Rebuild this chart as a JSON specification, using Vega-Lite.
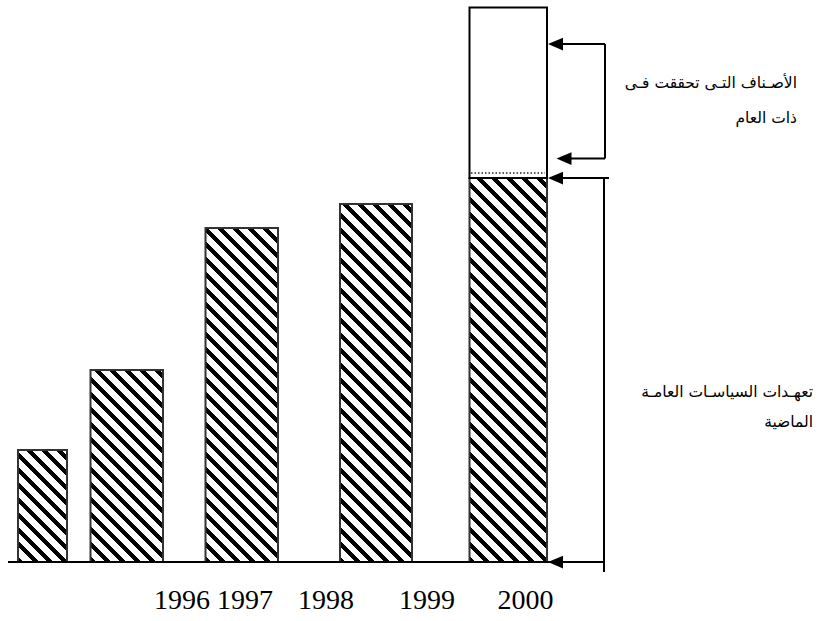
{
  "$schema": "https://vega.github.io/schema/vega-lite/v6.json",
  "width": 822,
  "height": 621,
  "padding": 0,
  "autosize": {"type": "none"},
  "background": "white",
  "config": {"view": {"stroke": null}},
  "params": [
    {"name": "stripes", "value": [
      {"offset": 0, "color": "black"}, {"offset": 0.0129, "color": "black"}, {"offset": 0.0129, "color": "white"}, {"offset": 0.0323, "color": "white"},
      {"offset": 0.0323, "color": "black"}, {"offset": 0.0452, "color": "black"}, {"offset": 0.0452, "color": "white"}, {"offset": 0.0645, "color": "white"},
      {"offset": 0.0645, "color": "black"}, {"offset": 0.0774, "color": "black"}, {"offset": 0.0774, "color": "white"}, {"offset": 0.0968, "color": "white"},
      {"offset": 0.0968, "color": "black"}, {"offset": 0.1097, "color": "black"}, {"offset": 0.1097, "color": "white"}, {"offset": 0.129, "color": "white"},
      {"offset": 0.129, "color": "black"}, {"offset": 0.1419, "color": "black"}, {"offset": 0.1419, "color": "white"}, {"offset": 0.1613, "color": "white"},
      {"offset": 0.1613, "color": "black"}, {"offset": 0.1742, "color": "black"}, {"offset": 0.1742, "color": "white"}, {"offset": 0.1935, "color": "white"},
      {"offset": 0.1935, "color": "black"}, {"offset": 0.2065, "color": "black"}, {"offset": 0.2065, "color": "white"}, {"offset": 0.2258, "color": "white"},
      {"offset": 0.2258, "color": "black"}, {"offset": 0.2387, "color": "black"}, {"offset": 0.2387, "color": "white"}, {"offset": 0.2581, "color": "white"},
      {"offset": 0.2581, "color": "black"}, {"offset": 0.271, "color": "black"}, {"offset": 0.271, "color": "white"}, {"offset": 0.2903, "color": "white"},
      {"offset": 0.2903, "color": "black"}, {"offset": 0.3032, "color": "black"}, {"offset": 0.3032, "color": "white"}, {"offset": 0.3226, "color": "white"},
      {"offset": 0.3226, "color": "black"}, {"offset": 0.3355, "color": "black"}, {"offset": 0.3355, "color": "white"}, {"offset": 0.3548, "color": "white"},
      {"offset": 0.3548, "color": "black"}, {"offset": 0.3677, "color": "black"}, {"offset": 0.3677, "color": "white"}, {"offset": 0.3871, "color": "white"},
      {"offset": 0.3871, "color": "black"}, {"offset": 0.4, "color": "black"}, {"offset": 0.4, "color": "white"}, {"offset": 0.4194, "color": "white"},
      {"offset": 0.4194, "color": "black"}, {"offset": 0.4323, "color": "black"}, {"offset": 0.4323, "color": "white"}, {"offset": 0.4516, "color": "white"},
      {"offset": 0.4516, "color": "black"}, {"offset": 0.4645, "color": "black"}, {"offset": 0.4645, "color": "white"}, {"offset": 0.4839, "color": "white"},
      {"offset": 0.4839, "color": "black"}, {"offset": 0.4968, "color": "black"}, {"offset": 0.4968, "color": "white"}, {"offset": 0.5161, "color": "white"},
      {"offset": 0.5161, "color": "black"}, {"offset": 0.529, "color": "black"}, {"offset": 0.529, "color": "white"}, {"offset": 0.5484, "color": "white"},
      {"offset": 0.5484, "color": "black"}, {"offset": 0.5613, "color": "black"}, {"offset": 0.5613, "color": "white"}, {"offset": 0.5806, "color": "white"},
      {"offset": 0.5806, "color": "black"}, {"offset": 0.5935, "color": "black"}, {"offset": 0.5935, "color": "white"}, {"offset": 0.6129, "color": "white"},
      {"offset": 0.6129, "color": "black"}, {"offset": 0.6258, "color": "black"}, {"offset": 0.6258, "color": "white"}, {"offset": 0.6452, "color": "white"},
      {"offset": 0.6452, "color": "black"}, {"offset": 0.6581, "color": "black"}, {"offset": 0.6581, "color": "white"}, {"offset": 0.6774, "color": "white"},
      {"offset": 0.6774, "color": "black"}, {"offset": 0.6903, "color": "black"}, {"offset": 0.6903, "color": "white"}, {"offset": 0.7097, "color": "white"},
      {"offset": 0.7097, "color": "black"}, {"offset": 0.7226, "color": "black"}, {"offset": 0.7226, "color": "white"}, {"offset": 0.7419, "color": "white"},
      {"offset": 0.7419, "color": "black"}, {"offset": 0.7548, "color": "black"}, {"offset": 0.7548, "color": "white"}, {"offset": 0.7742, "color": "white"},
      {"offset": 0.7742, "color": "black"}, {"offset": 0.7871, "color": "black"}, {"offset": 0.7871, "color": "white"}, {"offset": 0.8065, "color": "white"},
      {"offset": 0.8065, "color": "black"}, {"offset": 0.8194, "color": "black"}, {"offset": 0.8194, "color": "white"}, {"offset": 0.8387, "color": "white"},
      {"offset": 0.8387, "color": "black"}, {"offset": 0.8516, "color": "black"}, {"offset": 0.8516, "color": "white"}, {"offset": 0.871, "color": "white"},
      {"offset": 0.871, "color": "black"}, {"offset": 0.8839, "color": "black"}, {"offset": 0.8839, "color": "white"}, {"offset": 0.9032, "color": "white"},
      {"offset": 0.9032, "color": "black"}, {"offset": 0.9161, "color": "black"}, {"offset": 0.9161, "color": "white"}, {"offset": 0.9355, "color": "white"},
      {"offset": 0.9355, "color": "black"}, {"offset": 0.9484, "color": "black"}, {"offset": 0.9484, "color": "white"}, {"offset": 0.9677, "color": "white"},
      {"offset": 0.9677, "color": "black"}, {"offset": 0.9806, "color": "black"}, {"offset": 0.9806, "color": "white"}, {"offset": 1, "color": "white"}
    ]}
  ],
  "datasets": {
    "bars": [
      {"year": "1996", "x0": 18, "x1": 67, "v": 112},
      {"year": "1997", "x0": 90.5, "x1": 163, "v": 192},
      {"year": "1998", "x0": 205.5, "x1": 278, "v": 334},
      {"year": "1999", "x0": 340, "x1": 412, "v": 358},
      {"year": "2000", "x0": 469.5, "x1": 547, "v": 384}
    ],
    "extra": [{"x0": 469.5, "x1": 547, "lo": 384, "hi": 554.5}],
    "segs": [
      {"x": 8, "x2": 604, "y": 0, "y2": 0},
      {"x": 556, "x2": 605, "y": 518, "y2": 518},
      {"x": 605, "x2": 605, "y": 518, "y2": 403.5},
      {"x": 564, "x2": 605, "y": 403.5, "y2": 403.5},
      {"x": 556, "x2": 609, "y": 384, "y2": 384},
      {"x": 604, "x2": 604, "y": 384, "y2": -10}
    ],
    "dots": [{"x": 471, "x2": 545, "y": 389}],
    "arrows": [
      {"x": 555.5, "y": 518},
      {"x": 564, "y": 403.5},
      {"x": 555.5, "y": 384},
      {"x": 555.5, "y": 0}
    ],
    "years": [
      {"label": "1996", "x": 182},
      {"label": "1997", "x": 245},
      {"label": "1998", "x": 326},
      {"label": "1999", "x": 427},
      {"label": "2000", "x": 525.5}
    ],
    "notes": [
      {"t": "الأصـناف التـى تحققت فـى", "x": 797, "y": 479},
      {"t": "ذات العام", "x": 797, "y": 444},
      {"t": "تعهـدات السياسـات العامـة", "x": 813, "y": 170},
      {"t": "الماضية", "x": 813, "y": 140}
    ]
  },
  "layer": [
    {
      "data": {"name": "bars"},
      "mark": {"type": "rect", "stroke": "#333", "strokeWidth": 2},
      "encoding": {
        "x": {"field": "x0", "type": "quantitative", "scale": {"domain": [0, 822], "nice": false, "zero": false}, "axis": null},
        "x2": {"field": "x1"},
        "y": {"field": "v", "type": "quantitative", "scale": {"domain": [-59, 562], "nice": false, "zero": false}, "axis": null},
        "y2": {"datum": 0},
        "fill": {"value": {"expr": "({gradient:'linear',x1:0,y1:1,x2:(datum.x1-datum.x0)*464.7/((datum.x1-datum.x0)*(datum.x1-datum.x0)+datum.v*datum.v),y2:1-datum.v*464.7/((datum.x1-datum.x0)*(datum.x1-datum.x0)+datum.v*datum.v),stops:stripes})"}}
      }
    },
    {
      "data": {"name": "extra"},
      "mark": {"type": "rect", "fill": "white", "stroke": "black", "strokeWidth": 2},
      "encoding": {
        "x": {"field": "x0", "type": "quantitative"},
        "x2": {"field": "x1"},
        "y": {"field": "lo", "type": "quantitative"},
        "y2": {"field": "hi"}
      }
    },
    {
      "data": {"name": "dots"},
      "mark": {"type": "rule", "color": "#222", "strokeWidth": 1.5, "strokeDash": [1.5, 2]},
      "encoding": {
        "x": {"field": "x", "type": "quantitative"},
        "x2": {"field": "x2"},
        "y": {"field": "y", "type": "quantitative"}
      }
    },
    {
      "data": {"name": "segs"},
      "mark": {"type": "rule", "color": "black", "strokeWidth": 2},
      "encoding": {
        "x": {"field": "x", "type": "quantitative"},
        "x2": {"field": "x2"},
        "y": {"field": "y", "type": "quantitative"},
        "y2": {"field": "y2"}
      }
    },
    {
      "data": {"name": "arrows"},
      "mark": {"type": "point", "filled": true, "color": "black", "opacity": 1, "size": 225, "shape": "M -1 0 L 1 -0.85 L 1 0.85 Z"},
      "encoding": {
        "x": {"field": "x", "type": "quantitative"},
        "y": {"field": "y", "type": "quantitative"}
      }
    },
    {
      "data": {"name": "years"},
      "mark": {"type": "text", "font": "Liberation Serif", "fontSize": 28, "color": "black", "align": "center", "baseline": "alphabetic"},
      "encoding": {
        "x": {"field": "x", "type": "quantitative"},
        "y": {"datum": -47},
        "text": {"field": "label"}
      }
    },
    {
      "data": {"name": "notes"},
      "mark": {"type": "text", "font": "DejaVu Sans", "fontSize": 15.5, "color": "black", "align": "right", "baseline": "middle"},
      "encoding": {
        "x": {"field": "x", "type": "quantitative"},
        "y": {"field": "y", "type": "quantitative"},
        "text": {"field": "t"}
      }
    }
  ]
}
